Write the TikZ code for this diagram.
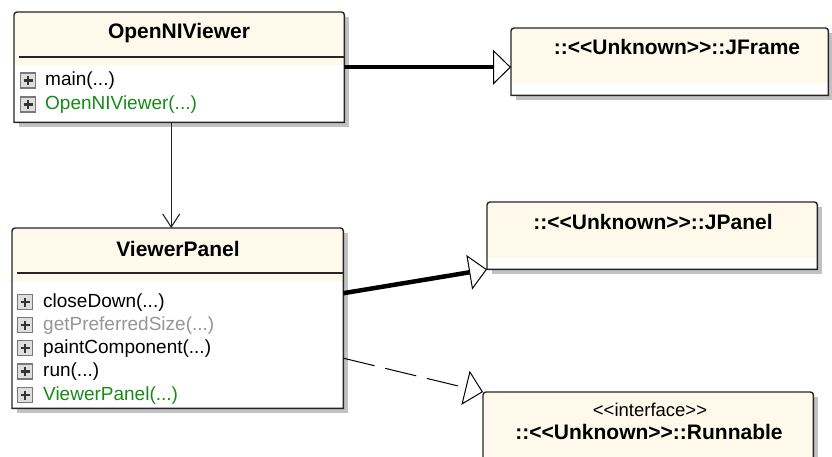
\documentclass[tikz,border=0pt]{standalone}
\usepackage{fontspec}
\setmainfont{Liberation Sans}[Ligatures=TeXOff]
\usetikzlibrary{arrows.meta,calc}

\definecolor{cream}{HTML}{FFF9EC}
\definecolor{shadowgray}{HTML}{C2C2C2}
\definecolor{edgecol}{HTML}{262626}
\definecolor{ctorgreen}{RGB}{22,140,22}
\definecolor{inheritgray}{RGB}{150,150,150}
\definecolor{iconborder}{RGB}{120,120,120}
\definecolor{iconfill}{RGB}{222,222,222}

% draws shadow, fills, outline and (optionally) the divider of a class box
\newcommand\classframe[3]{%
  \fill[shadowgray] ([shift={(5pt,-5pt)}]#1.south west) rectangle ([shift={(5pt,-5pt)}]#1.north east);
  \fill[white] (#1.south west) rectangle (#1.north east);
  \fill[cream] ([yshift=-#2pt]#1.north west) [rounded corners=3pt] -- (#1.north west) -- (#1.north east) [sharp corners] -- ([yshift=-#2pt]#1.north east) -- cycle;
  \draw[edgecol, line width=1.4pt] (#1.south west) [rounded corners=3pt] -- (#1.north west) -- (#1.north east) [sharp corners] -- (#1.south east) -- cycle;
  #3%
}
\newcommand\classdivider[1]{%
  \draw[edgecol, line width=1.2pt] ([shift={(5pt,-45pt)}]#1.north west) -- ([yshift=-45pt]#1.north east);
}

\begin{document}
\begin{tikzpicture}[x=1pt, y=-1pt,
  classbox/.style={rectangle, inner sep=0pt, anchor=north west},
  titletext/.style={inner sep=0pt, font=\fontsize{21}{24}\selectfont\bfseries, text=black},
  stereo/.style={inner sep=0pt, font=\fontsize{18.5}{22}\selectfont, text=black},
  method/.style={inner sep=0pt, anchor=west, font=\fontsize{19}{22}\selectfont, text=black},
  plusicon/.style={rectangle, minimum size=15pt, inner sep=0pt, draw=iconborder, fill=iconfill, line width=1.4pt,
    path picture={
      \draw[black!80, line width=2.2pt]
        ([xshift=-4.5pt]path picture bounding box.center) -- ([xshift=4.5pt]path picture bounding box.center)
        ([yshift=-4.5pt]path picture bounding box.center) -- ([yshift=4.5pt]path picture bounding box.center);
    }},
  generalization/.style={line width=4.5pt, -{Triangle[length=18pt, width=35pt, fill=white, line width=1pt]}},
  realization/.style={line width=1pt, dash pattern=on 32pt off 11pt, -{Triangle[length=18pt, width=35pt, fill=white, line width=1pt]}},
  association/.style={line width=1.1pt, edgecol, -{Straight Barb[length=13pt, width=17pt, line width=1.1pt]}},
]
\useasboundingbox (0,0) rectangle (832,457);

% class boxes
\node[classbox, minimum width=330pt, minimum height=110pt] (ov) at (14,12) {};
\node[classbox, minimum width=331pt, minimum height=180pt] (vp) at (12,228) {};
\node[classbox, minimum width=317pt, minimum height=67pt] (jf) at (511,28) {};
\node[classbox, minimum width=330pt, minimum height=67pt] (jp) at (487,202) {};
\node[classbox, minimum width=330pt, minimum height=85pt] (rn) at (483,392) {};

\classframe{ov}{53}{\classdivider{ov}}
\classframe{vp}{53}{\classdivider{vp}}
\classframe{jf}{55}{}
\classframe{jp}{56}{}
\classframe{rn}{85}{}

% OpenNIViewer
\node[titletext] (ovtitle) at (179,33) {OpenNIViewer};
\node[plusicon] (ovi1) at (28,80.5) {};
\node[method] (ovm1) at (45,81) {main(...)};
\node[plusicon] (ovi2) at (28,104.5) {};
\node[method, text=ctorgreen] (ovm2) at (45,105) {OpenNIViewer(...)};

% ViewerPanel
\node[titletext] (vptitle) at (178,249) {ViewerPanel};
\node[plusicon] (vpi1) at (25,302) {};
\node[method] (vpm1) at (43,302.5) {closeDown(...)};
\node[plusicon] (vpi2) at (25,325) {};
\node[method, text=inheritgray] (vpm2) at (43,325.5) {getPreferredSize(...)};
\node[plusicon] (vpi3) at (25,348) {};
\node[method] (vpm3) at (43,348.5) {paintComponent(...)};
\node[plusicon] (vpi4) at (25,371.5) {};
\node[method] (vpm4) at (43,372) {run(...)};
\node[plusicon] (vpi5) at (25,395) {};
\node[method, text=ctorgreen] (vpm5) at (43,395.5) {ViewerPanel(...)};

% external classes
\node[titletext] (jftitle) at (677,47) {::<<Unknown>>::JFrame};
\node[titletext] (jptitle) at (653,222) {::<<Unknown>>::JPanel};
\node[stereo] (rnstereo) at (650,410) {<<interface>>};
\node[titletext] (rntitle) at (649,432) {::<<Unknown>>::Runnable};

% relations
\draw[generalization] (ov.east) -- (ov.east -| jf.west);
\draw[association] ([xshift=-8pt]ov.south) -- ([xshift=-8pt]ov.south |- vp.north);
\draw[generalization] ([yshift=25pt]vp.east) -- (jp.south west);
\draw[realization] ([yshift=-40pt]vp.east) -- (rn.north west);
\end{tikzpicture}
\end{document}
